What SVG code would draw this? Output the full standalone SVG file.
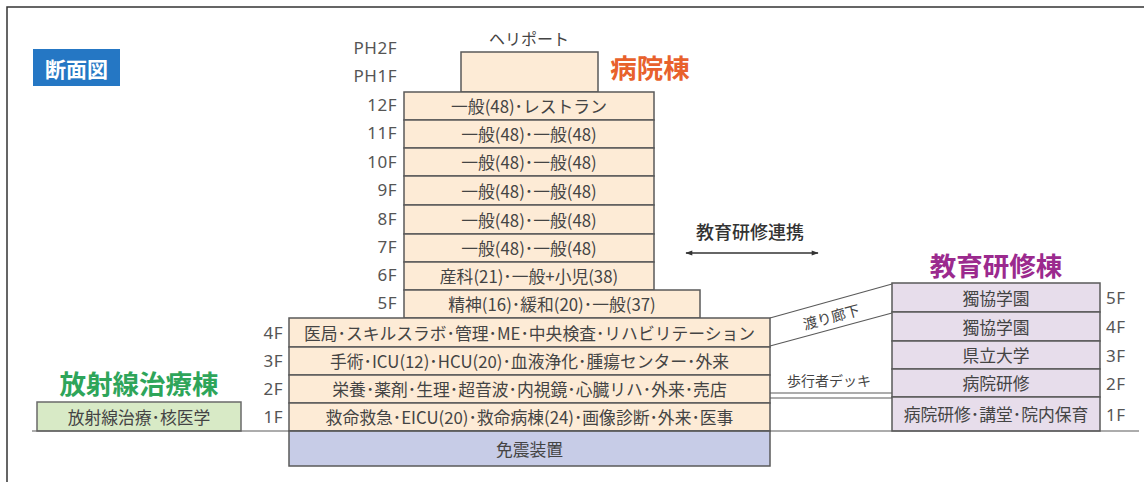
<svg xmlns="http://www.w3.org/2000/svg" width="1144" height="482" viewBox="0 0 1144 482">
<defs>
<marker id="ah" viewBox="0 0 10 10" refX="9" refY="5" markerWidth="10" markerHeight="7" markerUnits="userSpaceOnUse" orient="auto-start-reverse">
<path d="M0,1.5 L10,5 L0,8.5 Z" fill="#333"/>
</marker>
</defs>
<style>
.t{font-family:"Noto Sans CJK JP","Noto Sans",sans-serif;fill:#444;font-size:16.8px;text-anchor:middle;dominant-baseline:central}
.fl{font-family:"Noto Sans","Noto Sans CJK JP",sans-serif;fill:#555;font-size:17px;letter-spacing:0.5px;dominant-baseline:central}
.r{text-anchor:end}
.l{text-anchor:start}
.h{fill:#fdebd6;stroke:#5a5a5a;stroke-width:1.5}
.e{fill:#e7ddeb;stroke:#5a5a5a;stroke-width:1.5}
.b{fill:#c7cce7;stroke:#5a5a5a;stroke-width:1.5}
.g{fill:#d8eac6;stroke:#6a6a6a;stroke-width:1.5}
.ttl{font-family:"Noto Sans CJK JP",sans-serif;font-weight:700;font-size:26.5px;text-anchor:middle;dominant-baseline:central}
.ln{stroke:#5a5a5a;stroke-width:1.2;fill:none}
</style>
<rect width="1144" height="482" fill="#fff"/>
<path d="M7,482 V7 H1144" fill="none" stroke="#333" stroke-width="1.5"/>

<g id="label">
<rect x="33" y="49" width="87" height="37" fill="#2577c4"/>
<text x="76.5" y="67.5" class="ttl" style="fill:#fff;font-size:21px">断面図</text>
</g>

<g id="hospital">
<text x="529" y="38" class="t" style="font-size:16px">ヘリポート</text>
<rect x="461" y="52" width="137" height="40" class="h"/>
<text x="650" y="66" class="ttl" style="fill:#e8612c">病院棟</text>
<text x="397" y="47" class="fl r">PH2F</text>
<text x="397" y="75" class="fl r">PH1F</text>
<rect x="404" y="92" width="250" height="28" class="h"/>
<text x="529" y="106" class="t">一般(48)･レストラン</text>
<text x="397" y="104" class="fl r">12F</text>
<rect x="404" y="120" width="250" height="28" class="h"/>
<text x="529" y="134" class="t">一般(48)･一般(48)</text>
<text x="397" y="132" class="fl r">11F</text>
<rect x="404" y="148" width="250" height="28" class="h"/>
<text x="529" y="162" class="t">一般(48)･一般(48)</text>
<text x="397" y="161" class="fl r">10F</text>
<rect x="404" y="176" width="250" height="29" class="h"/>
<text x="529" y="190.5" class="t">一般(48)･一般(48)</text>
<text x="397" y="189" class="fl r">9F</text>
<rect x="404" y="205" width="250" height="29" class="h"/>
<text x="529" y="219.5" class="t">一般(48)･一般(48)</text>
<text x="397" y="218" class="fl r">8F</text>
<rect x="404" y="234" width="250" height="28" class="h"/>
<text x="529" y="248" class="t">一般(48)･一般(48)</text>
<text x="397" y="246" class="fl r">7F</text>
<rect x="404" y="262" width="250" height="28" class="h"/>
<text x="529" y="276" class="t">産科(21)･一般+小児(38)</text>
<text x="397" y="274" class="fl r">6F</text>
<rect x="404" y="290" width="296" height="28" class="h"/>
<text x="552" y="304" class="t">精神(16)･緩和(20)･一般(37)</text>
<text x="397" y="302" class="fl r">5F</text>
<rect x="289" y="318" width="481" height="29" class="h"/>
<text x="529.5" y="332.5" class="t">医局･スキルスラボ･管理･ME･中央検査･リハビリテーション</text>
<text x="283" y="332" class="fl r">4F</text>
<rect x="289" y="347" width="481" height="28" class="h"/>
<text x="529.5" y="361" class="t">手術･ICU(12)･HCU(20)･血液浄化･腫瘍センター･外来</text>
<text x="283" y="360" class="fl r">3F</text>
<rect x="289" y="375" width="481" height="28" class="h"/>
<text x="529.5" y="389" class="t">栄養･薬剤･生理･超音波･内視鏡･心臓リハ･外来･売店</text>
<text x="283" y="388" class="fl r">2F</text>
<rect x="289" y="403" width="481" height="28" class="h"/>
<text x="529.5" y="417" class="t">救命救急･EICU(20)･救命病棟(24)･画像診断･外来･医事</text>
<text x="283" y="416" class="fl r">1F</text>
<rect x="289" y="431" width="481" height="35" class="b"/>
<text x="529.5" y="448.5" class="t">免震装置</text>
</g>

<g id="radiation">
<text x="139" y="382" class="ttl" style="fill:#2ea55a">放射線治療棟</text>
<rect x="37" y="402" width="204" height="29" class="g"/>
<text x="139" y="416.5" class="t">放射線治療･核医学</text>
</g>

<g id="education">
<text x="996" y="264" class="ttl" style="fill:#9b2a8e">教育研修棟</text>
<rect x="892" y="283" width="208" height="29" class="e"/>
<text x="996" y="297.5" class="t">獨協学園</text>
<text x="1106" y="297" class="fl l">5F</text>
<rect x="892" y="312" width="208" height="29" class="e"/>
<text x="996" y="326.5" class="t">獨協学園</text>
<text x="1106" y="326" class="fl l">4F</text>
<rect x="892" y="341" width="208" height="28" class="e"/>
<text x="996" y="355" class="t">県立大学</text>
<text x="1106" y="355" class="fl l">3F</text>
<rect x="892" y="369" width="208" height="28" class="e"/>
<text x="996" y="383" class="t">病院研修</text>
<text x="1106" y="383" class="fl l">2F</text>
<rect x="892" y="397" width="208" height="34" class="e"/>
<text x="996" y="414" class="t">病院研修･講堂･院内保育</text>
<text x="1106" y="414" class="fl l">1F</text>
</g>

<g id="connectors">
<line x1="32" y1="431" x2="1139" y2="431" class="ln" stroke-width="1.5"/>
<line x1="770" y1="318" x2="892" y2="284" class="ln"/>
<line x1="770" y1="346" x2="892" y2="313" class="ln"/>
<text x="831" y="316" class="t" style="font-size:14.5px" transform="rotate(-15.5 831 316)">渡り廊下</text>
<text x="829" y="380" class="t" style="font-size:14px">歩行者デッキ</text>
<line x1="770" y1="393" x2="892" y2="393" class="ln"/>
<line x1="770" y1="398" x2="892" y2="398" class="ln"/>
<text x="750" y="231" class="t" style="font-size:18px;font-weight:500;fill:#333">教育研修連携</text>
<line x1="686" y1="253" x2="818" y2="253" stroke="#333" stroke-width="1.5" marker-start="url(#ah)" marker-end="url(#ah)"/>
</g>
</svg>
